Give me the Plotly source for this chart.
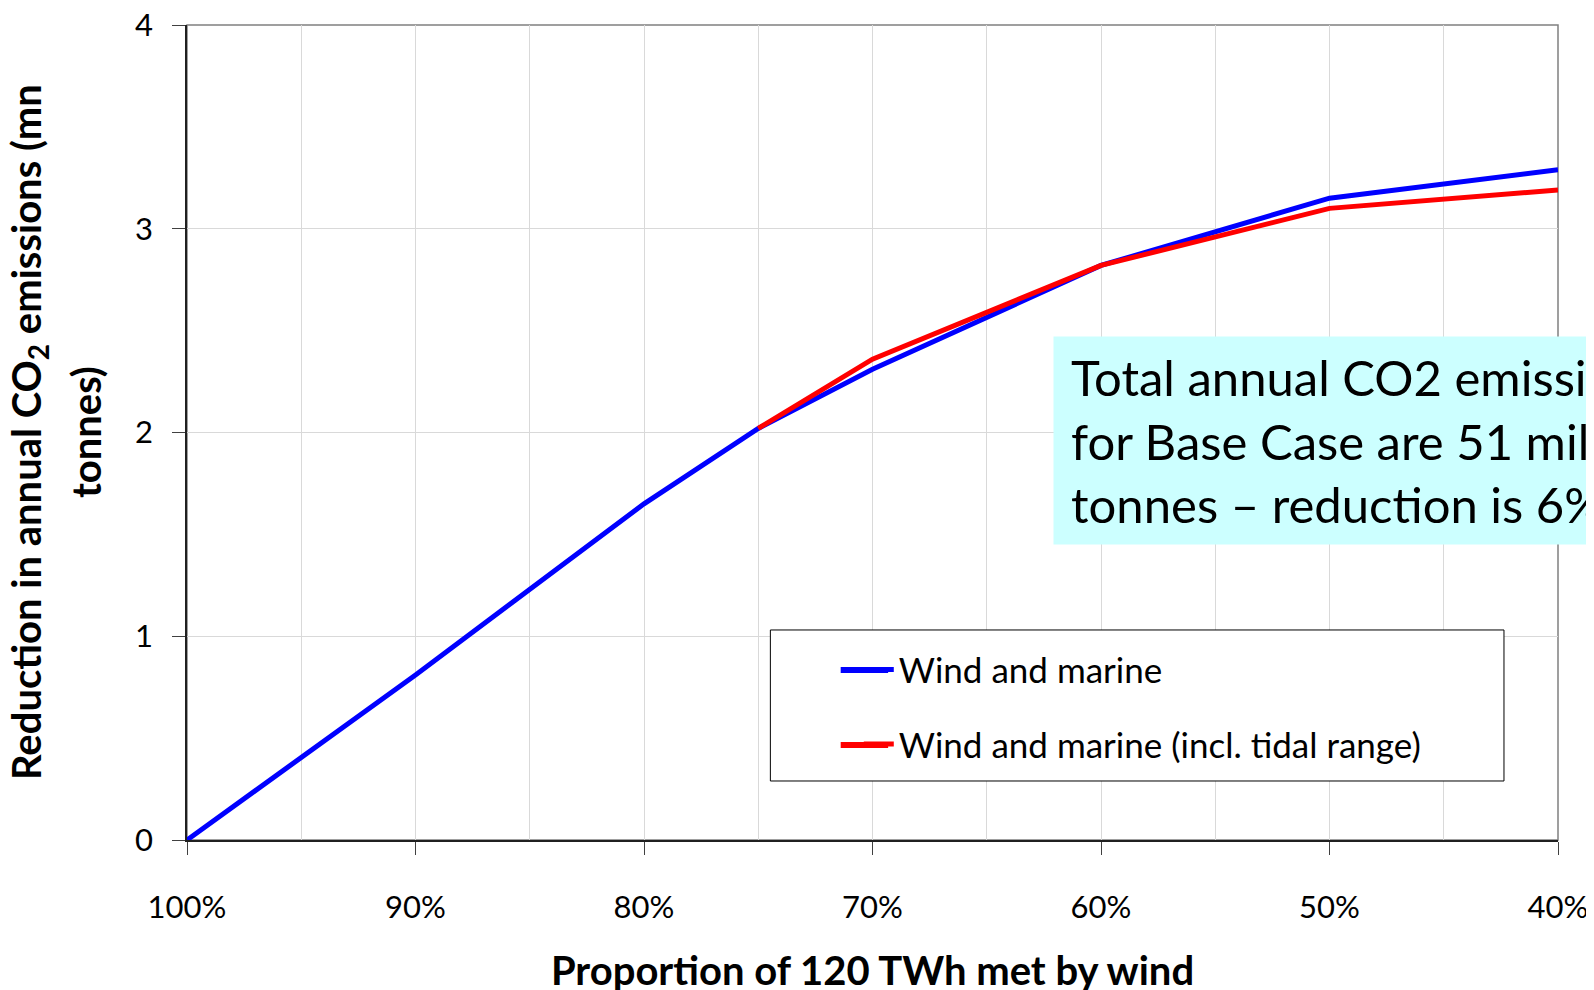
import plotly.graph_objects as go

# proportion of 120 TWh met by wind (%), reduction in CO2 (mn tonnes)
wind_x = [100, 90, 80, 75, 70, 60, 50, 40]
wind_y = [0, 0.81, 1.65, 2.02, 2.31, 2.82, 3.15, 3.29]

tidal_x = [75, 70, 60, 50, 40]
tidal_y = [2.02, 2.36, 2.82, 3.10, 3.19]

tick_vals = [100, 90, 80, 70, 60, 50, 40]
tick_text = ['100%', '90%', '80%', '70%', '60%', '50%', '40%']

FONT = 'Lato'
GRID = '#d9d9d9'
BLUE = '#0000ff'
RED = '#ff0000'

fig = go.Figure()
fig.add_trace(
	go.Scatter(
		x = wind_x,
		y = wind_y,
		mode = 'lines',
		name = 'Wind and marine',
		legendgroup = 'a',
		line = dict(color = BLUE, width = 5),
	)
)
fig.add_trace(
	go.Scatter(
		x = tidal_x,
		y = tidal_y,
		mode = 'lines',
		name = 'Wind and marine (incl. tidal range)',
		legendgroup = 'b',
		line = dict(color = RED, width = 5),
	)
)

# page body adds 8px, margins account for it
fig.update_layout(
	width = 1594,
	height = 990,
	margin = dict(l = 179, r = 44, t = 17, b = 158, autoexpand = False),
	plot_bgcolor = 'white',
	paper_bgcolor = 'white',
	font = dict(family = FONT, size = 31, color = 'black'),
	showlegend = True,
	legend = dict(
		x = 0.49,
		y = 0.245,
		xanchor = 'left',
		yanchor = 'top',
		bgcolor = 'rgba(0,0,0,0)',
		borderwidth = 0,
		traceorder = 'grouped',
		tracegroupgap = 26,
		font = dict(family = FONT, size = 35),
	),
)

fig.update_xaxes(
	range = [100, 40],
	automargin = False,
	tickvals = tick_vals,
	ticktext = tick_text,
	ticks = 'outside',
	ticklen = 13,
	tickcolor = '#404040',
	ticklabelstandoff = 26,
	ticklabeloverflow = 'allow',
	showgrid = True,
	gridcolor = GRID,
	minor = dict(dtick = 5, showgrid = True, gridcolor = GRID, ticks = ''),
	showline = True,
	linecolor = '#202020',
	linewidth = 1.5,
	zeroline = False,
	title = dict(text = '<b>Proportion of 120 TWh met by wind</b>', font = dict(size = 40), standoff = 33),
)
fig.update_yaxes(
	range = [0, 4],
	automargin = False,
	dtick = 1,
	ticks = 'outside',
	ticklen = 13,
	tickcolor = '#404040',
	ticklabelstandoff = 13,
	ticklabeloverflow = 'allow',
	showgrid = True,
	gridcolor = GRID,
	showline = True,
	linecolor = '#202020',
	linewidth = 1.5,
	zeroline = False,
)

# plot area border (grey on top / right)
fig.add_shape(type = 'rect', xref = 'x domain', yref = 'y domain', x0 = 0, x1 = 1, y0 = 0, y1 = 1,
	line = dict(color = '#808080', width = 1.5), layer = 'below')

# legend frame
fig.add_shape(type = 'rect', xref = 'paper', yref = 'paper', x0 = 0.4255, x1 = 0.9606, y0 = 0.0724, y1 = 0.2577,
	line = dict(color = 'black', width = 1), fillcolor = 'white', layer = 'above')
# longer legend keys, like the original
for colour, ky in [(BLUE, 0.2086), (RED, 0.1166)]:
	fig.add_shape(type = 'line', xref = 'paper', yref = 'paper', x0 = 0.4768, x1 = 0.5114, y0 = ky, y1 = ky,
		line = dict(color = colour, width = 6), layer = 'above')

# y axis title, two lines
fig.add_annotation(text = '<b>Reduction in annual CO<sub>2</sub> emissions (mn</b>', xref = 'paper', yref = 'paper',
	x = -0.1156, y = 0.5, xanchor = 'center', yanchor = 'middle', textangle = -90, showarrow = False,
	font = dict(size = 40))
fig.add_annotation(text = '<b>tonnes)</b>', xref = 'paper', yref = 'paper',
	x = -0.074, y = 0.5, xanchor = 'center', yanchor = 'middle', textangle = -90, showarrow = False,
	font = dict(size = 40))

# note box
fig.add_annotation(
	text = '\u2009Total annual CO2 emissions<br>\u2009for Base Case are 51 million<br>\u2009tonnes – reduction is 6%',
	xref = 'paper', yref = 'paper', x = 0.632, y = 0.6178, xanchor = 'left', yanchor = 'top',
	align = 'left', showarrow = False, bgcolor = '#ccffff', borderpad = 11,
	font = dict(size = 49),
)

fig.write_html('out.html')
